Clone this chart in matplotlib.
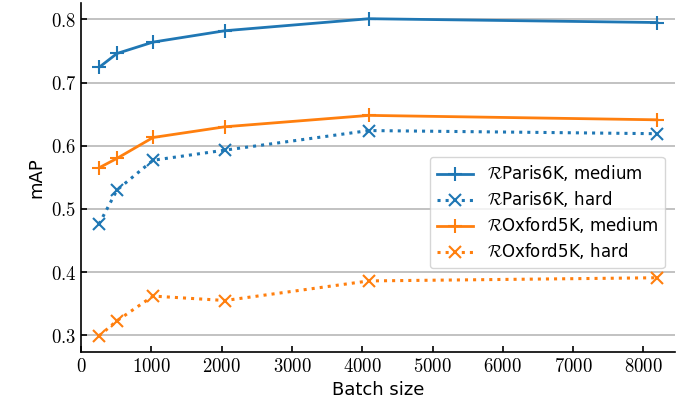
import numpy as np
import matplotlib
matplotlib.use('Agg')
import matplotlib.pyplot as plt
from matplotlib.ticker import FuncFormatter

batch_size = [256, 512, 1024, 2048, 4096, 8192]
paris_medium = [0.724, 0.746, 0.764, 0.782, 0.801, 0.795]
paris_hard = [0.476, 0.530, 0.577, 0.593, 0.624, 0.619]
oxford_medium = [0.565, 0.580, 0.613, 0.630, 0.648, 0.641]
oxford_hard = [0.299, 0.323, 0.362, 0.355, 0.386, 0.391]

plt.rcParams['mathtext.fontset'] = 'cm'
plt.rcParams['font.family'] = 'DejaVu Sans'

blue = '#1f77b4'
orange = '#ff7f0e'

fig = plt.figure(figsize=(6.81, 4.09), dpi=100)
ax = fig.add_axes([0.119, 0.140, 0.872, 0.853])

ax.plot(batch_size, paris_medium, '-', marker='+', color=blue, lw=2, ms=10, mew=1.5,
        label=r'$\mathcal{R}$Paris6K, medium')
ax.plot(batch_size, paris_hard, ':', marker='x', color=blue, lw=2.2, ms=9, mew=1.5,
        label=r'$\mathcal{R}$Paris6K, hard')
ax.plot(batch_size, oxford_medium, '-', marker='+', color=orange, lw=2, ms=10, mew=1.5,
        label=r'$\mathcal{R}$Oxford5K, medium')
ax.plot(batch_size, oxford_hard, ':', marker='x', color=orange, lw=2.2, ms=9, mew=1.5,
        label=r'$\mathcal{R}$Oxford5K, hard')

ax.set_xlim(0, 8448)
ax.set_xticks(np.arange(0, 8001, 1000))
ax.set_yticks([0.3, 0.4, 0.5, 0.6, 0.7, 0.8])
ax.xaxis.set_major_formatter(FuncFormatter(lambda v, p: r'$%d$' % v))
ax.yaxis.set_major_formatter(FuncFormatter(lambda v, p: r'$%.1f$' % v))
ax.tick_params(direction='in', length=4, width=1.2, labelsize=13.5, colors='black')

ax.grid(axis='y', color='#b8b8b8', lw=1.2)
ax.set_axisbelow(True)
for s in ['top', 'right']:
    ax.spines[s].set_visible(False)
for s in ['left', 'bottom']:
    ax.spines[s].set_linewidth(1.2)
    ax.spines[s].set_color('black')

ax.set_xlabel('Batch size', fontsize=13)
ax.set_ylabel('mAP', fontsize=13)

ax.legend(loc='lower right', bbox_to_anchor=(0.983, 0.24), borderaxespad=0,
          fontsize=12, handlelength=2.2, handletextpad=0.8, labelspacing=0.36,
          framealpha=0.8)

fig.savefig('out.png', dpi=100)
